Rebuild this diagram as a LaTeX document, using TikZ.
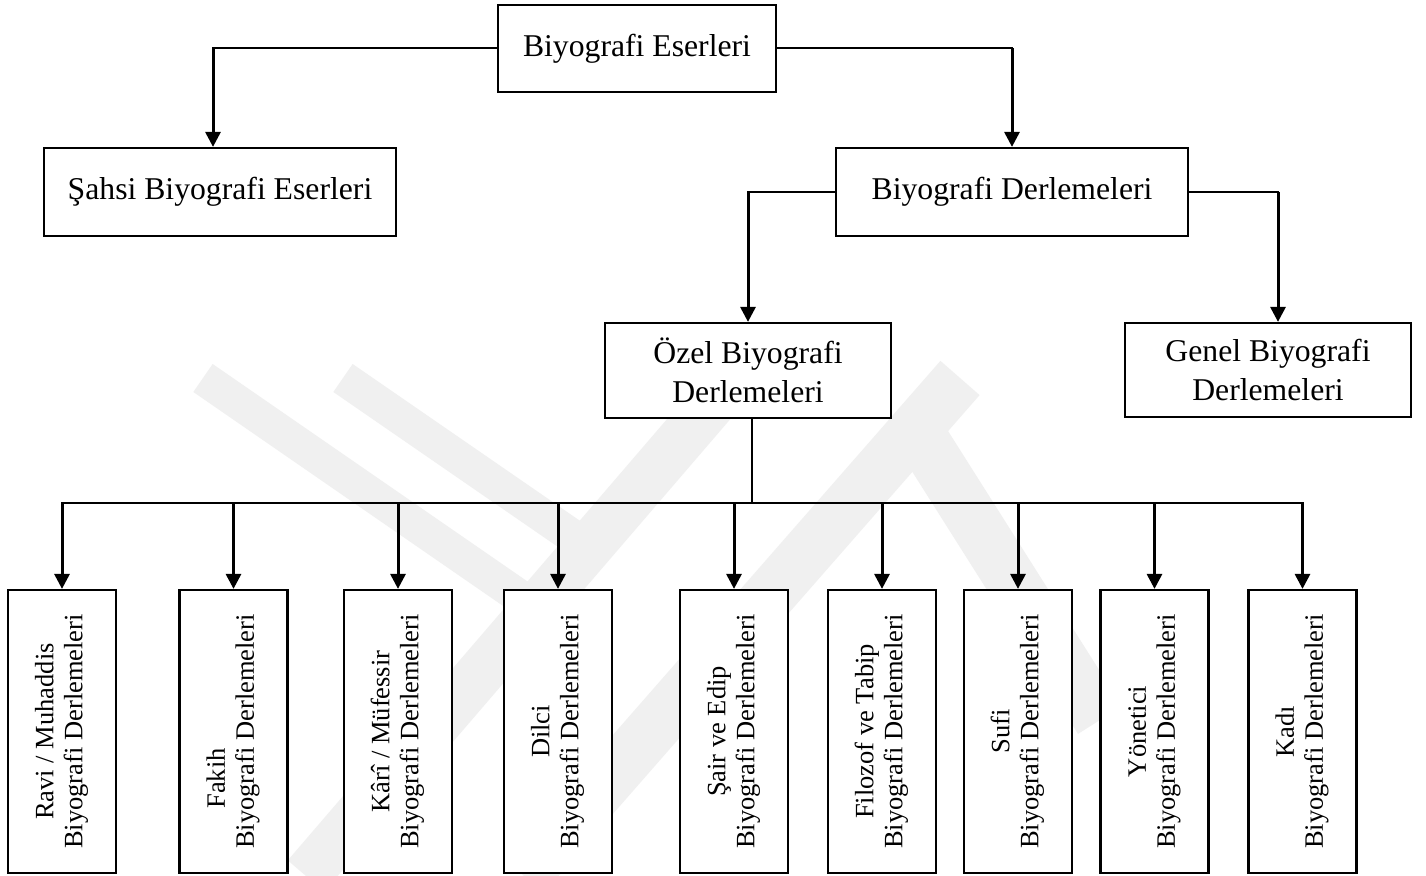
\documentclass[tikz,border=0pt]{standalone}
\usepackage{fontspec}
\setmainfont{Liberation Serif}
\usepackage{graphicx}
\usetikzlibrary{arrows.meta}
\newcommand\vtext[2]{\rotatebox{90}{\fontsize{13.25}{14.5}\selectfont\begin{tabular}{@{}c@{}}#1\\#2\end{tabular}}}
\begin{document}
\begin{tikzpicture}[x=0.5pt,y=-0.5pt,
  hbox/.style={draw=black, fill=white, line width=1.1pt, inner sep=0pt, align=center,
               font=\fontsize{15.85}{19.5}\selectfont},
  vbox/.style={draw=black, fill=white, line width=1.1pt, inner sep=0pt,
               minimum width=54pt, minimum height=141.5pt},
  link/.style={line width=1pt, line cap=rect},
  stem/.style={line width=0.8pt},
  drop/.style={line width=1.5pt, -{Triangle[width=7.5pt,length=7.5pt]}},
  wm/.style={draw=black!6, line cap=butt, line join=miter}
]
\fill[white] (0,0) rectangle (1426,876);
\useasboundingbox (0,0) rectangle (1426,876);

% faint watermark
\begin{scope}
\clip (0,0) rectangle (1426,876);
\draw[wm, line width=24pt] (734,378) -- (306,876);
\draw[wm, line width=17pt] (203,378) -- (536,608);
\draw[wm, line width=17pt] (343,378) -- (588,547);
\draw[wm, line width=26pt] (960,378) -- (524,876);
\draw[wm, line width=26pt] (916,429) -- (1100,720);
\end{scope}

% upper boxes
\node[hbox, minimum width=139pt, minimum height=43.5pt] (top) at (637,48.5) {Biyografi Eserleri};
\node[hbox, minimum width=176pt, minimum height=44pt] (sahsi) at (220,192) {Şahsi Biyografi Eserleri};
\node[hbox, minimum width=176pt, minimum height=44pt] (derl) at (1012,192) {Biyografi Derlemeleri};
\node[hbox, minimum width=143pt, minimum height=47.5pt] (ozel) at (748,370.5) {Özel Biyografi\\Derlemeleri};
\node[hbox, minimum width=143pt, minimum height=47pt] (genel) at (1268,370) {Genel Biyografi\\Derlemeleri};

% vertical boxes
\node[vbox] (v1) at (62,731.5) {\vtext{Ravi / Muhaddis}{Biyografi Derlemeleri}};
\node[vbox] (v2) at (233.5,731.5) {\vtext{Fakih\hspace*{47pt}}{Biyografi Derlemeleri}};
\node[vbox] (v3) at (398,731.5) {\vtext{Kârî / Müfessir}{Biyografi Derlemeleri}};
\node[vbox] (v4) at (558,731.5) {\vtext{Dilci}{Biyografi Derlemeleri}};
\node[vbox] (v5) at (734,731.5) {\vtext{Şair ve Edip}{Biyografi Derlemeleri}};
\node[vbox] (v6) at (882,731.5) {\vtext{Filozof ve Tabip}{Biyografi Derlemeleri}};
\node[vbox] (v7) at (1018,731.5) {\vtext{Sufi}{Biyografi Derlemeleri}};
\node[vbox] (v8) at (1154.5,731.5) {\vtext{Yönetici}{Biyografi Derlemeleri}};
\node[vbox] (v9) at (1302.5,731.5) {\vtext{Kadı}{Biyografi Derlemeleri}};

% connectors top level
\path (top.west -| sahsi.north) ++(-3.5pt,0) coordinate (k1);
\draw[link] (top.west) -- (k1);
\draw[drop] (k1) -- (k1 |- sahsi.north);

\path (top.east -| derl.north) coordinate (k2);
\draw[link] (top.east) -- (k2);
\draw[drop] (k2) -- (derl.north);

\path (derl.west -| ozel.north) coordinate (k3);
\draw[link] (derl.west) -- (k3);
\draw[drop] (k3) -- (ozel.north);

\path (derl.east -| genel.north) ++(5pt,0) coordinate (k4);
\draw[link] (derl.east) -- (k4);
\draw[drop] (k4) -- (k4 |- genel.north);

% bus
\coordinate (bus) at (752,503);
\draw[stem] (bus |- ozel.south) -- (bus);
\draw[link] (bus -| v1.north) -- (bus -| v9.north);
\foreach \n in {v1,v2,v3,v4,v5,v6,v7,v8,v9}
  \draw[drop] (bus -| \n.north) -- (\n.north);
\end{tikzpicture}
\end{document}
